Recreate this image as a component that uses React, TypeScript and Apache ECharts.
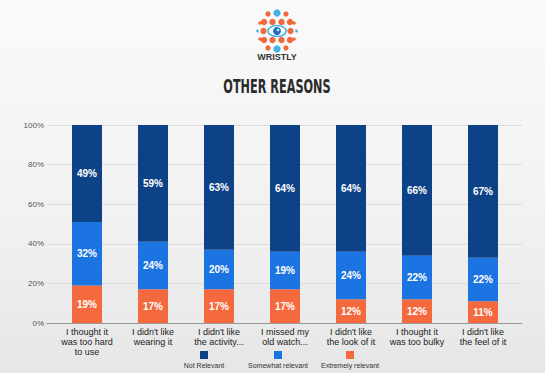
import React, { useEffect, useRef } from "react";
import * as echarts from "echarts";

const categories = [
  "I thought it\nwas too hard\nto use",
  "I didn't like\nwearing it",
  "I didn't like\nthe activity...",
  "I missed my\nold watch...",
  "I didn't like\nthe look of it",
  "I thought it\nwas too bulky",
  "I didn't like\nthe feel of it",
];
const extremelyRelevant = [19, 17, 17, 17, 12, 12, 11];
const somewhatRelevant = [32, 24, 20, 19, 24, 22, 22];
const notRelevant = [49, 59, 63, 64, 64, 66, 67];
const seriesNames = ["Not Relevant", "Somewhat relevant", "Extremely relevant"];
const seriesColors = ["#0e4287", "#1b74e2", "#f46a3e"];
const yTicks = [0, 20, 40, 60, 80, 100];

export default function App() {
  const ref = useRef<HTMLDivElement>(null);
  useEffect(() => {
    document.body.style.margin = "0";
    const chart = echarts.init(ref.current!, null, { renderer: "svg" });
    const font = "'Liberation Sans', Arial, sans-serif";
    const labelCfg = {
      show: true,
      position: "inside",
      formatter: "{c}%",
      color: "#fff",
      fontWeight: "bold",
      fontSize: 10,
      fontFamily: font,
    };
    const values = [notRelevant, somewhatRelevant, extremelyRelevant];
    const order = [2, 1, 0];
    const series = order.map((i) => ({
      name: seriesNames[i],
      type: "bar",
      stack: "total",
      xAxisIndex: 1,
      yAxisIndex: 1,
      barWidth: 30,
      data: values[i],
      itemStyle: { color: seriesColors[i] },
      label: labelCfg,
    }));

    // Logo
    const cx = 277;
    const cy = 31;
    const orange = "#ef6a3a";
    const lblue = "#3fb3e8";
    const dots: any[] = [];
    const addDot = (x: number, y: number, r: number, c: string) =>
      dots.push({ type: "circle", shape: { cx: cx + x, cy: cy + y, r }, style: { fill: c } });
    addDot(0, -18, 3.6, lblue);
    addDot(0, 18, 3.6, lblue);
    addDot(-9, -17, 2.6, orange);
    addDot(9, -17, 2.6, orange);
    addDot(-9, 17, 2.6, orange);
    addDot(9, 17, 2.6, orange);
    [-13, -4.5, 4.5, 13].forEach((x) => {
      addDot(x, -9, 3.2, orange);
      addDot(x, 9, 3.2, orange);
    });
    addDot(-13.5, 0, 3.2, orange);
    addDot(13.5, 0, 3.2, orange);
    addDot(-19.5, 0, 1.4, lblue);
    addDot(19.5, 0, 1.4, lblue);
    addDot(-17, -8, 1.8, orange);
    addDot(17, -8, 1.8, orange);
    addDot(-17, 8, 1.8, orange);
    addDot(17, 8, 1.8, orange);
    // eye
    dots.push({
      type: "ellipse",
      shape: { cx, cy, rx: 9, ry: 5.5 },
      style: { fill: "#ffffff", stroke: lblue, lineWidth: 1.6 },
    });
    dots.push({ type: "circle", shape: { cx, cy, r: 4 }, style: { fill: "#1e6fc0" } });
    dots.push({ type: "circle", shape: { cx: cx + 1, cy: cy - 1, r: 1.3 }, style: { fill: "#bfe6f8" } });

    const legendX = [204, 278, 350];
    const legendGraphics: any[] = [];
    seriesNames.forEach((n, i) => {
      legendGraphics.push({
        type: "rect",
        shape: { x: legendX[i] - 4, y: 351, width: 8, height: 8 },
        style: { fill: seriesColors[i] },
      });
      legendGraphics.push({
        type: "text",
        x: legendX[i],
        y: 365,
        style: {
          text: n,
          fill: "#333",
          font: `7px ${font}`,
          textAlign: "center",
          textVerticalAlign: "middle",
        },
      });
    });

    chart.setOption({
      animation: false,
      backgroundColor: "transparent",
      grid: [
        { left: 47, right: 23, top: 125, bottom: 50 },
        { left: 54, right: 29, top: 125, bottom: 50 },
      ],
      xAxis: [
        {
          type: "category",
          gridIndex: 0,
          data: [""],
          axisLine: { show: true, lineStyle: { color: "#999", width: 1 } },
          axisTick: { show: false },
          axisLabel: { show: false },
        },
        {
          type: "category",
          gridIndex: 1,
          data: categories,
          axisLine: { show: false },
          axisTick: { show: false },
          axisLabel: {
            interval: 0,
            color: "#222",
            fontSize: 9,
            lineHeight: 10,
            fontFamily: font,
            margin: 4,
          },
        },
      ],
      yAxis: [
        {
          type: "value",
          gridIndex: 0,
          min: yTicks[0],
          max: yTicks[yTicks.length - 1],
          interval: 20,
          axisLabel: {
            formatter: "{value}%",
            color: "#555",
            fontSize: 8,
            fontFamily: font,
            margin: 3,
          },
          axisLine: { show: false },
          axisTick: { show: false },
          splitLine: { lineStyle: { color: "#dcdcdc" } },
        },
        {
          type: "value",
          gridIndex: 1,
          min: 0,
          max: 100,
          interval: 20,
          show: false,
          splitLine: { show: false },
        },
      ],
      series,
      graphic: [
        ...dots,
        {
          type: "text",
          x: cx,
          y: 57,
          style: {
            text: "WRISTLY",
            fill: "#333",
            font: `bold 9px ${font}`,
            textAlign: "center",
            textVerticalAlign: "middle",
          },
        },
        {
          type: "text",
          x: cx,
          y: 87,
          scaleX: 0.66,
          style: {
            text: "OTHER REASONS",
            fill: "#2b2b2b",
            font: "bold 19px 'DejaVu Sans Condensed', 'DejaVu Sans', sans-serif",
            textAlign: "center",
            textVerticalAlign: "middle",
          },
        },
        ...legendGraphics,
      ],
    });
    return () => chart.dispose();
  }, []);
  return (
    <div
      style={{
        position: "fixed",
        left: 0,
        top: 0,
        width: 545,
        height: 373,
        background: "linear-gradient(180deg, #fafafa 0%, #f1f1f1 60%, #e6e6e6 100%)",
      }}
    >
      <div ref={ref} style={{ width: 545, height: 373 }} />
    </div>
  );
}
